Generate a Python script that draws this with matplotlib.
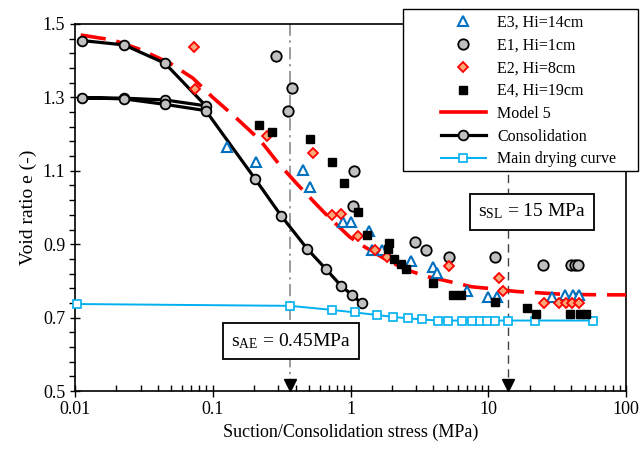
import matplotlib
matplotlib.use('Agg')
import matplotlib.pyplot as plt
from matplotlib.ticker import FuncFormatter, FixedLocator, LogLocator, NullFormatter
from matplotlib.lines import Line2D
from matplotlib.patches import Rectangle

plt.rcParams['font.family'] = 'serif'
plt.rcParams['font.serif'] = ['Liberation Serif', 'DejaVu Serif']
plt.rcParams['mathtext.fontset'] = 'stix'

# ---- data ----
e3_x = [0.127, 0.207, 0.45, 0.508, 0.88, 1.0, 1.37, 1.43, 1.685, 2.75, 3.99, 4.27,
        6.98, 10.0, 11.6, 28.9, 36.1, 41.0, 45.8]
e3_y = [1.164, 1.124, 1.102, 1.055, 0.961, 0.961, 0.937, 0.884, 0.884, 0.855, 0.839, 0.821,
        0.772, 0.755, 0.755, 0.755, 0.762, 0.762, 0.762]

e1_x = [0.286, 0.378, 0.353, 1.066, 1.04, 2.94, 3.53, 5.21, 11.2, 24.8, 39.9, 42.7, 44.6]
e1_y = [1.414, 1.325, 1.263, 1.100, 1.004, 0.907, 0.884, 0.864, 0.864, 0.843, 0.843, 0.843, 0.843]

e2_x = [0.0734, 0.0745, 0.246, 0.537, 0.73, 0.853, 1.14, 1.5, 1.85, 5.2, 12.0, 12.9,
        25.4, 32.8, 36.6, 40.7, 45.6]
e2_y = [1.438, 1.322, 1.195, 1.148, 0.980, 0.982, 0.922, 0.884, 0.864, 0.841, 0.807, 0.773,
        0.741, 0.741, 0.741, 0.741, 0.741]

e4_x = [0.217, 0.270, 0.508, 0.73, 0.902, 1.127, 1.31, 1.90, 1.88, 2.08, 2.33, 2.53,
        3.95, 5.57, 6.31, 11.2, 19.2, 22.2, 39.2, 46.3, 51.0]
e4_y = [1.225, 1.205, 1.186, 1.125, 1.066, 0.989, 0.925, 0.904, 0.886, 0.860, 0.846, 0.832,
        0.795, 0.762, 0.762, 0.743, 0.727, 0.710, 0.710, 0.710, 0.710]

model_x = [0.011, 0.019, 0.03, 0.049, 0.072, 0.1, 0.149, 0.22, 0.3, 0.405, 0.57, 0.69,
           0.985, 1.2, 1.83, 2.56, 3.67, 4.72, 7.58, 9.75, 16.1, 20.1, 33.2, 41.4, 70.5, 100]
model_y = [1.47, 1.456, 1.43, 1.393, 1.352, 1.30, 1.243, 1.184, 1.12, 1.066, 1.007, 0.975,
           0.92, 0.898, 0.857, 0.830, 0.811, 0.802, 0.784, 0.780, 0.771, 0.769, 0.764,
           0.763, 0.762, 0.762]

cons_x = [0.0112, 0.0227, 0.045, 0.089, 0.045, 0.0227, 0.0112, 0.0227, 0.045, 0.089,
          0.203, 0.313, 0.486, 0.664, 0.853, 1.03, 1.205]
cons_y = [1.455, 1.443, 1.393, 1.277, 1.293, 1.298, 1.299, 1.296, 1.281, 1.264,
          1.078, 0.978, 0.887, 0.832, 0.787, 0.761, 0.739]

dry_x = [0.0103, 0.364, 0.73, 1.08, 1.57, 2.02, 2.63, 3.29, 4.30, 5.13, 6.41, 7.58,
         8.71, 9.72, 11.2, 14.0, 21.8, 57.3]
dry_y = [0.737, 0.732, 0.721, 0.714, 0.707, 0.702, 0.698, 0.695, 0.692, 0.692, 0.692,
         0.692, 0.692, 0.692, 0.692, 0.692, 0.692, 0.692]

yticks = [0.5, 0.7, 0.9, 1.1, 1.3, 1.5]
s_ae = 0.364
s_sl = 14.0

fig = plt.figure(figsize=(6.41, 4.49), dpi=100)
ax = fig.add_axes([75 / 641, 1 - 391 / 449, (626 - 75) / 641, (391 - 24) / 449])

# reference lines with arrows
ax.plot([s_ae, s_ae], [0.5, 1.5], color='#808080', lw=1.1, dashes=(8, 3, 1.5, 3), zorder=1)
ax.plot([s_sl, s_sl], [0.5, 1.5], color='#404040', lw=1.0, dashes=(6, 4), zorder=1)
ax.plot([s_ae, s_sl], [0.516, 0.516], 'v', color='black', ms=8, ls='none', zorder=5, clip_on=False)

# model, consolidation, drying curve
ax.plot(model_x, model_y, color='red', lw=2.6, dashes=(7, 3), zorder=3)
ax.plot(cons_x, cons_y, color='black', lw=2.3, marker='o', ms=7, mfc='#c0c0c0', mec='black',
        mew=1.3, zorder=4)
ax.plot(dry_x, dry_y, color='#00b0f0', lw=1.4, marker='s', ms=6, mfc='white', mec='#00b0f0',
        mew=1.2, zorder=4, clip_on=False)

# test data
ax.plot(e3_x, e3_y, ls='none', marker='^', ms=7, mfc='white', mec='#0070c0', mew=1.5, zorder=6)
ax.plot(e1_x, e1_y, ls='none', marker='o', ms=7.5, mfc='#c0c0c0', mec='black', mew=1.3, zorder=6)
ax.plot(e2_x, e2_y, ls='none', marker='D', ms=5.5, mfc='#f8a878', mec='red', mew=1.3, zorder=6)
ax.plot(e4_x, e4_y, ls='none', marker='s', ms=6, mfc='black', mec='black', zorder=6)

box = dict(boxstyle='square,pad=0.42', fc='white', ec='black', lw=1.3)
ax.text(0.37, 0.635, r'$\mathregular{s_{AE}}$ = 0.45MPa', fontsize=14, ha='center', va='center',
        bbox=box, zorder=7)
ax.text(20.8, 0.989, r'$\mathregular{s_{SL}}$ = 15 MPa', fontsize=14, ha='center', va='center',
        bbox=box, zorder=7)

ax.set_xscale('log')
ax.set_xlim(0.01, 100)
ax.set_ylim(0.5, 1.5)
ax.xaxis.set_major_formatter(FuncFormatter(lambda v, p: '%g' % v))
ax.xaxis.set_minor_locator(LogLocator(base=10, subs=range(2, 10)))
ax.xaxis.set_minor_formatter(NullFormatter())
ax.yaxis.set_major_locator(FixedLocator(yticks))
ax.yaxis.set_minor_locator(FixedLocator([0.5 + 0.04 * i for i in range(26)]))
ax.yaxis.set_major_formatter(FuncFormatter(lambda v, p: '%.1f' % v))
ax.tick_params(axis='x', which='major', direction='inout', length=8, width=1, labelsize=13)
ax.tick_params(axis='x', which='minor', direction='in', length=4, width=1)
ax.tick_params(axis='y', which='major', direction='inout', length=7, width=1, labelsize=13)
ax.tick_params(axis='y', which='minor', direction='out', length=4, width=1)
for sp in ax.spines.values():
    sp.set_linewidth(1.2)

ax.set_xlabel('Suction/Consolidation stress (MPa)', fontsize=13)
ax.set_ylabel('Void ratio e (-)', fontsize=14)

# legend: Excel-style box drawn separately so the handles sit with a wide left margin
fig.add_artist(Rectangle((403 / 641, 1 - 171 / 449), 235 / 641, 162 / 449,
                         transform=fig.transFigure, fc='white', ec='black', lw=1.0, zorder=2))
handles = [
    Line2D([], [], ls='none', marker='^', ms=7, mfc='white', mec='#0070c0', mew=1.5),
    Line2D([], [], ls='none', marker='o', ms=7.5, mfc='#c0c0c0', mec='black', mew=1.3),
    Line2D([], [], ls='none', marker='D', ms=5.5, mfc='#f8a878', mec='red', mew=1.3),
    Line2D([], [], ls='none', marker='s', ms=6, mfc='black', mec='black'),
    Line2D([], [], color='red', lw=2.6),
    Line2D([], [], color='black', lw=2.3, marker='o', ms=7, mfc='#c0c0c0', mec='black', mew=1.3),
    Line2D([], [], color='#00b0f0', lw=1.4, marker='s', ms=6, mfc='white', mec='#00b0f0', mew=1.2),
]
labels = ['E3, Hi=14cm', 'E1, Hi=1cm', 'E2, Hi=8cm', 'E4, Hi=19cm', 'Model 5',
          'Consolidation', 'Main drying curve']
leg = fig.legend(handles, labels, loc='upper left', bbox_to_anchor=(441 / 641, 1 - 15 / 449),
                 bbox_transform=fig.transFigure, borderaxespad=0, borderpad=0, fontsize=11.5,
                 numpoints=1, handlelength=2.8, handletextpad=0.7, labelspacing=0.42,
                 frameon=False)
leg.set_zorder(5)

fig.savefig('out.png', dpi=100)
